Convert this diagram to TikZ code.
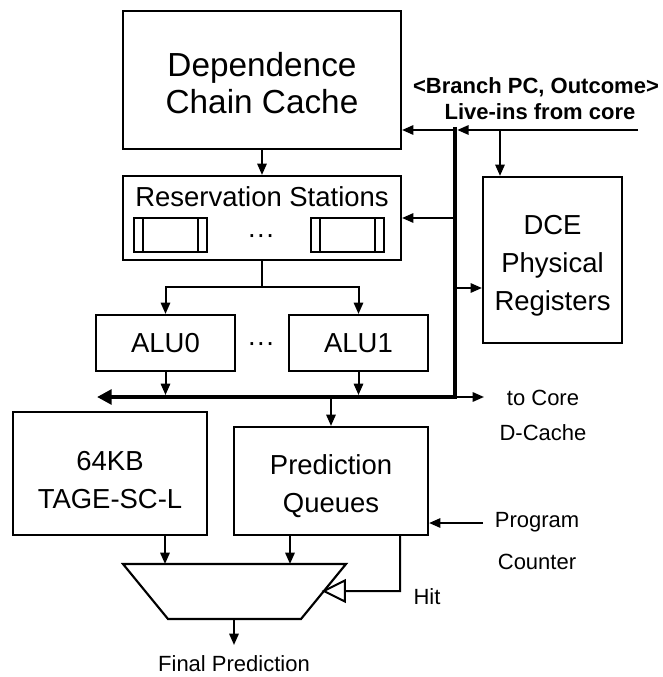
\documentclass[tikz,border=0pt]{standalone}
\usepackage{fontspec}
\setmainfont{Liberation Sans}
\usetikzlibrary{arrows.meta,calc}
\begin{document}
\begin{tikzpicture}[x=0.75pt,y=-0.75pt,
  box/.style={draw,line width=1.6pt,inner sep=0pt},
  boxtext/.style={inner sep=0pt,align=center,font=\fontsize{20.6}{28.5}\selectfont},
  bigtext/.style={inner sep=0pt,align=center,font=\fontsize{25}{27.75}\selectfont},
  slot/.style={draw,line width=1.3pt,minimum width=54.75pt,minimum height=25.5pt,inner sep=0pt,
    path picture={
      \draw[line width=1.3pt] ([xshift=6.75pt]path picture bounding box.north west) -- ([xshift=6.75pt]path picture bounding box.south west);
      \draw[line width=1.3pt] ([xshift=-6.75pt]path picture bounding box.north east) -- ([xshift=-6.75pt]path picture bounding box.south east);}},
  lbl/.style={inner sep=0pt,font=\fontsize{20.6}{24}\selectfont},
  small/.style={inner sep=0pt,font=\fontsize{16.5}{20}\selectfont},
  boldlbl/.style={inner sep=0pt,font=\fontsize{16.5}{20}\selectfont\bfseries},
  conn/.style={line width=1.5pt},
  arr/.style={conn,-{Triangle[length=8.5pt,width=7pt]}},
  bus/.style={line width=3.7pt,line join=miter},
  opentri/.style={line width=1.5pt,line join=miter},
  ]
\useasboundingbox (0,0) rectangle (662,677);

% boxes
\node[box,minimum width=208.5pt,minimum height=103.5pt] (dcc) at (262,80) {};
\node[bigtext] (dcct) at (262,83) {Dependence\\Chain Cache};
\node[box,minimum width=208.5pt,minimum height=63pt] (rs) at (262,218) {};
\node[lbl] (rstitle) at (262,197) {Reservation Stations};
\node[slot] (slotl) at (170.5,235) {};
\node[slot] (slotr) at (347.5,235) {};
\node[lbl] (rsdots) at (261,239) {···};
\node[box,minimum width=104.25pt,minimum height=42pt] (alu0) at (165.5,343) {};
\node[lbl] (alu0t) at (165.5,343) {ALU0};
\node[box,minimum width=104.25pt,minimum height=42pt] (alu1) at (358.5,343) {};
\node[lbl] (alu1t) at (358.5,343) {ALU1};
\node[lbl] (aludots) at (261,347) {···};
\node[box,minimum width=104.25pt,minimum height=124.5pt] (dce) at (552.5,260) {};
\node[boxtext] (dcet) at (552.5,266) {DCE\\Physical\\Registers};
\node[box,minimum width=145.5pt,minimum height=92.25pt] (tage) at (110,473.5) {};
\node[boxtext] (taget) at (110,480) {64KB\\TAGE-SC-L};
\node[box,minimum width=145.5pt,minimum height=81pt] (pq) at (331,481) {};
\node[boxtext] (pqt) at (331,486) {Prediction\\Queues};

% labels
\node[boldlbl] (lb1) at (536,87) {<Branch PC, Outcome>};
\node[boldlbl] (lb2) at (540,112) {Live-ins from core};
\node[small] (tocore) at (543,398) {to Core};
\node[small] (dcache) at (543,433) {D-Cache};
\node[small] (prog) at (537,522) {Program};
\node[small] (cnt) at (537,562) {Counter};
\node[small] (hit) at (427,597) {Hit};
\node[small] (final) at (234,664) {Final Prediction};

% mux
\coordinate (mtl) at (123,564);
\coordinate (mtr) at (346,564);
\coordinate (mbr) at (301,619);
\coordinate (mbl) at (168,619);
\draw[line width=1.6pt,line join=miter] (mtl) -- (mtr) -- (mbr) -- (mbl) -- cycle;

% coordinates
\coordinate (btop) at (455,127);
\coordinate (bin) at (455,130);
\coordinate (bc) at (455,397);
\coordinate (bleft) at (97,397);
\coordinate (in) at (638,130);
\coordinate (indce) at (500,130);
\coordinate (b1) at (455,218);
\coordinate (b2) at (455,288);
\coordinate (b3) at (331,397);
\coordinate (tocoretip) at (484,397);
\coordinate (split) at (262,287);
\coordinate (m1) at (165,564);
\coordinate (m2) at (290,564);
\coordinate (hitc) at (400,591);
\coordinate (hittip) at ($(mtr)!0.4909!(mbr)$);
\coordinate (hitbase) at ($(hittip)+(21,0)$);
\coordinate (pcin) at (483,523);
\coordinate (mout) at (234,619);
\coordinate (outend) at (234,645);

% bus
\draw[bus,-{Triangle[length=11pt,width=11pt]}] (btop) -- (bc) -- (bleft);

% connectors
\draw[arr,shorten >=1.7pt] (in) -- (bin);
\draw[arr] (bin) -- (bin -| dcc.east);
\draw[arr] (indce) -- (indce |- dce.north);
\draw[arr] (dcc) -- (rs);
\draw[arr] (b1) -- (b1 -| rs.east);
\draw[arr] (b2) -- (b2 -| dce.west);
\draw[conn] (rs.south) -- (split);
\draw[arr] (split) -| (alu0.north);
\draw[arr] (split) -| (alu1.north);
\draw[arr,shorten >=1.5pt] (alu0.south) -- (alu0.south |- bc);
\draw[arr,shorten >=1.5pt] (alu1.south) -- (alu1.south |- bc);
\draw[arr] (bc) -- (tocoretip);
\draw[arr,shorten <=1.5pt] (b3) -- (pq.north);
\draw[arr] (m1 |- tage.south) -- (m1);
\draw[arr] (m2 |- pq.south) -- (m2);
\draw[conn] (hitc |- pq.south) -- (hitc) -- (hitbase);
\draw[opentri] (hittip) -- ($(hitbase)+(0,-10.5)$) -- ($(hitbase)+(0,10.5)$) -- cycle;
\draw[arr] (pcin) -- (pcin -| pq.east);
\draw[arr] (mout) -- (outend);
\end{tikzpicture}
\end{document}
